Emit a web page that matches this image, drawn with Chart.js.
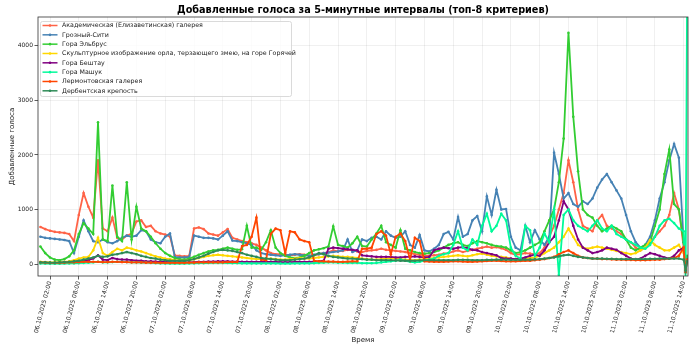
<!DOCTYPE html>
<html>
<head>
<meta charset="utf-8">
<script src="https://cdn.jsdelivr.net/npm/chart.js@4.4.1/dist/chart.umd.min.js"></script>
<style>
  html, body { margin: 0; padding: 0; background: #fff; }
  #votes { display: block; }
</style>
</head>
<body>
<canvas id="votes" width="700" height="350"></canvas>
<script>
// sampling hours, counted from 06.10.2025 00:00
const hours = [
  0, 1, 2, 3, 4, 5, 6, 7, 8, 9, 10, 11,
  12, 13, 14, 15, 16, 17, 18, 19, 20, 21, 22, 23,
  24, 25, 26, 27, 28, 29, 30, 31, 32, 33, 34, 35,
  36, 37, 38, 39, 40, 41, 42, 43, 44, 45, 46, 47,
  48, 49, 50, 51, 52, 53, 54, 55, 56, 57, 58, 59,
  60, 61, 62, 63, 64, 65, 66, 67, 68, 69, 70, 71,
  72, 73, 74, 75, 76, 77, 78, 79, 80, 81, 82, 83,
  84, 85, 86, 87, 88, 89, 90, 91, 92, 93, 94, 95,
  96, 97, 98, 99, 100, 101, 102, 103, 104, 105, 106, 107,
  108, 109, 110, 111, 112, 113, 114, 115, 116, 117, 118, 119,
  120, 121, 122, 123, 124, 125, 126, 127, 128, 129, 130, 131,
  132, 133, 134, 134.4, 134.7
];

const tickHours = [2, 8, 14, 20, 26, 32, 38, 44, 50, 56, 62, 68, 74, 80, 86, 92, 98, 104, 110, 116, 122, 128, 134];
const tickLabels = [
  '06.10.2025 02:00', '06.10.2025 08:00', '06.10.2025 14:00', '06.10.2025 20:00',
  '07.10.2025 02:00', '07.10.2025 08:00', '07.10.2025 14:00', '07.10.2025 20:00',
  '08.10.2025 02:00', '08.10.2025 08:00', '08.10.2025 14:00', '08.10.2025 20:00',
  '09.10.2025 02:00', '09.10.2025 08:00', '09.10.2025 14:00', '09.10.2025 20:00',
  '10.10.2025 02:00', '10.10.2025 08:00', '10.10.2025 14:00', '10.10.2025 20:00',
  '11.10.2025 02:00', '11.10.2025 08:00', '11.10.2025 14:00'
];
const yTicks = [0, 1000, 2000, 3000, 4000];

const seriesNames = [
  'Академическая (Елизаветинская) галерея',
  'Грозный-Сити',
  'Гора Эльбрус',
  'Скульптурное изображение орла, терзающего змею, на горе Горячей',
  'Гора Бештау',
  'Гора Машук',
  'Лермонтовская галерея',
  'Дербентская крепость'
];

const academicGallery = [
  680, 640, 610, 590, 580, 570, 550, 420, 900, 1300, 1050, 850,
  1900, 650, 600, 850, 480, 450, 520, 560, 780, 800, 680, 700,
  600, 560, 540, 500, 160, 150, 140, 150, 650, 670, 640, 560,
  540, 520, 580, 640, 480, 450, 420, 400, 380, 350, 300, 250,
  200, 180, 180, 170, 160, 170, 180, 170, 150, 160, 180, 200,
  220, 250, 230, 240, 260, 250, 230, 220, 240, 250, 260, 280,
  260, 250, 240, 230, 220, 200, 180, 170, 160, 150, 160, 170,
  190, 200, 230, 250, 220, 240, 260, 280, 300, 320, 300, 310,
  290, 260, 200, 170, 180, 200, 190, 180, 200, 300, 500, 700,
  1000, 1300, 1900, 1500, 1000, 700, 650, 600, 800, 900, 700, 650,
  600, 550, 450, 400, 300, 250, 300, 400, 500, 600, 700, 900,
  1300, 1000, 300, -120, 100
];
const groznyCity = [
  500, 480, 470, 460, 450, 440, 420, 200, 500, 800, 600, 420,
  400, 450, 400, 380, 420, 480, 520, 500, 520, 620, 600, 450,
  400, 380, 500, 560, 130, 120, 120, 130, 520, 500, 480, 480,
  470, 450, 520, 600, 430, 420, 400, 380, 350, 250, 200, 180,
  170, 160, 150, 160, 170, 180, 170, 160, 150, 170, 180, 200,
  210, 220, 230, 250, 450, 220, 250, 450, 420, 480, 500, 450,
  600, 520, 480, 500, 600, 350, 300, 530, 250, 230, 280, 350,
  550, 590, 450, 860, 500, 550, 800, 880, 600, 1240, 900, 1360,
  1000, 1010, 500, 300, 250, 700, 400, 620, 450, 350, 500, 2040,
  1650, 1200, 1300, 1100, 1050, 1150, 1100, 1200, 1400, 1550, 1650, 1500,
  1350, 1200, 900, 600, 400, 300, 350, 500, 800, 1200, 1500, 1900,
  2200, 1950, 400, -150, 100
];
const elbrus = [
  320, 200, 120, 80, 70, 90, 140, 250, 550, 750, 650, 550,
  2600, 450, 420, 1440, 500, 420, 1500, 450, 1050, 650, 600, 500,
  380, 280, 200, 150, 110, 90, 80, 100, 130, 170, 200, 230,
  250, 260, 280, 300, 280, 260, 270, 700, 300, 300, 260, 400,
  620, 300, 200, 150, 120, 110, 120, 150, 200, 250, 270, 290,
  320, 690, 350, 330, 300, 380, 500, 330, 320, 450, 560, 700,
  400, 350, 300, 620, 280, 250, 220, 200, 190, 200, 220, 250,
  300, 350, 380, 400, 350, 330, 380, 420, 400, 380, 350, 330,
  320, 300, 250, 200, 220, 250, 300, 350, 400, 600, 800, 1000,
  1500, 2300, 4240, 2700, 1700, 1000, 900, 850, 700, 600, 650, 700,
  650, 600, 450, 300, 250, 300, 350, 400, 700, 1000, 1650, 2100,
  1100, 1000, 400, -100, 150
];
const eagleSculpture = [
  40, 35, 30, 30, 35, 40, 50, 70, 100, 120, 130, 250,
  480, 200, 150, 220, 280, 250, 300, 280, 250, 230, 200, 170,
  140, 120, 100, 90, 70, 60, 60, 70, 90, 110, 130, 150,
  160, 170, 160, 150, 140, 130, 120, 110, 100, 90, 90, 100,
  100, 90, 80, 80, 90, 100, 110, 100, 100, 110, 120, 130,
  140, 150, 140, 130, 130, 120, 110, 100, 90, 80, 80, 90,
  100, 110, 100, 90, 80, 70, 70, 80, 90, 100, 110, 120,
  130, 140, 150, 160, 150, 140, 160, 180, 190, 170, 150, 140,
  130, 120, 100, 90, 90, 100, 110, 120, 150, 200, 250, 300,
  400, 500, 650, 500, 350, 300, 280, 300, 320, 300, 280, 260,
  240, 220, 200, 180, 200, 250, 300, 440, 350, 300, 250, 250,
  300, 350, 200, -80, 60
];
const beshtau = [
  20, 20, 15, 15, 20, 25, 30, 40, 50, 60, 70, 100,
  160, 80, 70, 110, 90, 80, 80, 70, 60, 60, 50, 50,
  45, 40, 40, 35, 30, 30, 30, 30, 35, 40, 40, 45,
  45, 50, 50, 50, 45, 45, 40, 40, 40, 40, 40, 40,
  40, 40, 35, 35, 35, 40, 40, 40, 40, 45, 50, 60,
  280, 300, 290, 280, 270, 260, 250, 160, 150, 140, 130, 130,
  130, 130, 120, 120, 130, 130, 140, 130, 120, 130, 250, 280,
  300, 290, 280, 300, 310, 290, 260, 250, 220, 200, 180, 160,
  110, 100, 100, 90, 100, 120, 150, 170, 150, 250, 400, 500,
  800, 1150, 1000, 700, 450, 300, 250, 200, 220, 250, 300, 280,
  260, 200, 150, 100, 80, 100, 150, 200, 180, 150, 120, 100,
  150, 250, 300, -60, 80
];
const mashuk = [
  10, 8, 8, 6, 6, 8, 10, 12, 15, 20, 25, 30,
  40, 30, 30, 35, 40, 40, 35, 30, 30, 25, 25, 20,
  15, 12, 10, 8, 8, 8, 8, 10, 12, 15, 15, 18,
  20, 20, 20, 18, 15, 15, 12, 12, 10, 10, 10, 10,
  10, 10, 8, 8, 8, 10, 10, 12, 12, 15, 20, 25,
  30, 30, 25, 25, 20, 20, 20, 15, 15, 15, 20, 30,
  40, 50, 60, 80, 60, 40, 30, 40, 60, 80, 100, 150,
  180, 200, 350, 600, 300, 250, 450, 350, 700, 920, 600, 700,
  920, 800, 300, 150, 100, 700, 620, 150, 300, 560, 400, 1000,
  -200, 900, 1000, 800, 700, 650, 600, 700, 800, 650, 600, 700,
  550, 500, 450, 400, 350, 300, 280, 350, 500, 700, 800, 830,
  750, 650, 600, -250, 4700
];
const lermontovGallery = [
  30, 25, 20, 20, 20, 25, 30, 30, 35, 40, 40, 40,
  40, 35, 35, 40, 40, 35, 35, 30, 30, 30, 25, 25,
  25, 20, 20, 20, 20, 20, 20, 25, 25, 30, 30, 30,
  30, 30, 30, 35, 35, 35, 330, 350, 500, 850, 80, 70,
  550, 650, 620, 200, 600, 580, 450, 420, 400, 60, 50, 50,
  45, 45, 40, 40, 45, 50, 50, 280, 280, 300, 550, 600,
  520, 180, 500, 560, 420, 80, 480, 420, 50, 45, 40, 40,
  40, 45, 50, 50, 45, 40, 40, 45, 50, 55, 60, 60,
  55, 50, 50, 50, 55, 60, 60, 70, 80, 90, 110, 130,
  180, 220, 250, 200, 150, 120, 110, 100, 100, 90, 90, 85,
  80, 80, 75, 75, 70, 70, 70, 75, 80, 80, 90, 100,
  110, 150, 300, -150, 80
];
const derbentFortress = [
  30, 30, 25, 25, 30, 35, 40, 50, 60, 80, 100, 120,
  150, 130, 140, 170, 180, 200, 220, 200, 180, 150, 130, 110,
  100, 80, 70, 60, 60, 60, 60, 70, 90, 120, 150, 190,
  220, 250, 260, 250, 240, 220, 200, 170, 150, 130, 110, 100,
  90, 80, 70, 70, 70, 80, 90, 100, 120, 160, 200, 180,
  150, 130, 120, 110, 100, 100, 90, 90, 80, 80, 70, 70,
  70, 70, 65, 60, 60, 60, 60, 65, 70, 70, 70, 70,
  70, 70, 70, 75, 75, 75, 70, 70, 70, 75, 75, 80,
  80, 80, 75, 75, 75, 80, 80, 85, 90, 100, 110, 120,
  140, 160, 170, 150, 130, 120, 110, 100, 100, 100, 95, 95,
  90, 90, 90, 90, 90, 90, 90, 95, 95, 100, 100, 100,
  100, 100, 80, -120, 50
];

const seriesValues = [academicGallery, groznyCity, elbrus, eagleSculpture, beshtau, mashuk, lermontovGallery, derbentFortress];
const seriesColors = ['#FF6347', '#4682B4', '#32CD32', '#FFD700', '#800080', '#00FA9A', '#FF4500', '#2E8B57'];

const FONT = '"DejaVu Sans", sans-serif';

const datasets = seriesNames.map((name, i) => ({
  label: name,
  data: hours.map((h, j) => ({ x: h, y: seriesValues[i][j] })),
  borderColor: seriesColors[i],
  backgroundColor: seriesColors[i],
  order: -i   // later series are painted over earlier ones
}));

// frame, title and the boxed legend in the upper-left corner
const decorations = {
  id: 'decorations',
  afterDatasetsDraw(chart) {
    const { ctx, chartArea: a } = chart;
    ctx.save();
    ctx.strokeStyle = '#333';
    ctx.lineWidth = 0.8;
    ctx.strokeRect(a.left, a.top, a.right - a.left, a.bottom - a.top);
    ctx.restore();
  },
  afterDraw(chart) {
    const { ctx, chartArea: a } = chart;
    ctx.save();
    ctx.fillStyle = '#000';
    ctx.font = 'bold 9.7px ' + FONT;
    ctx.textAlign = 'center';
    ctx.textBaseline = 'middle';
    ctx.fillText('Добавленные голоса за 5-минутные интервалы (топ-8 критериев)', (a.left + a.right) / 2, 10);

    const bx = a.left + 2, by = a.top + 4, bw = 251, bh = 75;
    ctx.beginPath();
    ctx.roundRect(bx + 0.5, by + 0.5, bw, bh, 2);
    ctx.fillStyle = 'rgba(255,255,255,0.8)';
    ctx.fill();
    ctx.strokeStyle = '#d0d0d0';
    ctx.lineWidth = 0.8;
    ctx.stroke();

    ctx.font = '6.3px ' + FONT;
    ctx.textAlign = 'left';
    seriesNames.forEach((name, i) => {
      const y = by + 4.5 + i * 9.33;
      ctx.strokeStyle = seriesColors[i];
      ctx.lineWidth = 1.5;
      ctx.beginPath();
      ctx.moveTo(bx + 2.5, y);
      ctx.lineTo(bx + 17.5, y);
      ctx.stroke();
      ctx.fillStyle = seriesColors[i];
      ctx.beginPath();
      ctx.arc(bx + 10, y, 1.3, 0, Math.PI * 2);
      ctx.fill();
      ctx.fillStyle = '#222';
      ctx.fillText(name, bx + 22, y + 0.3);
    });
    ctx.restore();
  }
};

new Chart(document.getElementById('votes'), {
  type: 'line',
  data: { datasets },
  options: {
    responsive: false,
    animation: false,
    devicePixelRatio: 1,
    layout: { padding: { left: 0, right: 12, top: 17, bottom: 0 } },
    plugins: { legend: { display: false }, tooltip: { enabled: false } },
    elements: {
      line: { borderWidth: 1.8, tension: 0 },
      point: { radius: 1.3, borderWidth: 0 }
    },
    scales: {
      x: {
        type: 'linear',
        min: -0.5,
        max: 134.9,
        afterBuildTicks: axis => { axis.ticks = tickHours.map(v => ({ value: v })); },
        afterFit: scale => { scale.height = 74; scale.paddingLeft = 0; scale.paddingRight = 0; },
        ticks: {
          autoSkip: false,
          minRotation: 75,
          maxRotation: 75,
          padding: 1,
          color: '#222',
          font: { family: FONT, size: 6 },
          callback: (v, i) => tickLabels[i]
        },
        grid: { color: 'rgba(0,0,0,0.08)', lineWidth: 0.8, tickLength: 3.5, tickColor: '#333', tickWidth: 0.8 },
        border: { display: false },
        title: { display: true, text: 'Время', color: '#222', font: { family: FONT, size: 7 }, padding: { top: 0, bottom: 5.3 } }
      },
      y: {
        min: -220,
        max: 4530,
        afterBuildTicks: axis => { axis.ticks = yTicks.map(v => ({ value: v })); },
        afterFit: scale => { scale.width = 38; scale.paddingTop = 0; scale.paddingBottom = 0; },
        ticks: { padding: 1.5, color: '#222', font: { family: FONT, size: 6 }, callback: v => String(v) },
        grid: { color: 'rgba(0,0,0,0.08)', lineWidth: 0.8, tickLength: 3.5, tickColor: '#333', tickWidth: 0.8 },
        border: { display: false },
        title: { display: true, text: 'Добавленные голоса', color: '#222', font: { family: FONT, size: 7 }, padding: { top: 7.8, bottom: 0 } }
      }
    }
  },
  plugins: [decorations]
});
</script>
</body>
</html>
